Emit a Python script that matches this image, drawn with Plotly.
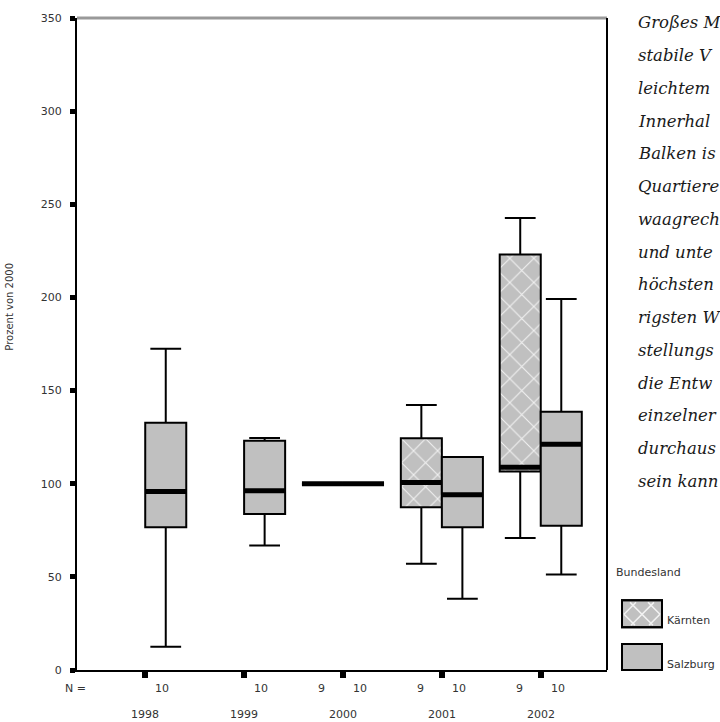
import numpy as np
import plotly.graph_objects as go

# ---------------- data ----------------
years = ["1998", "1999", "2000", "2001", "2002"]

kaernten_years = ["2000", "2001", "2002"]
kaernten_low = [100, 57.0, 70.9]
kaernten_q1 = [100, 87.3, 106.5]
kaernten_median = [100, 100.7, 108.8]
kaernten_q3 = [100, 124.4, 223.0]
kaernten_high = [100, 142.2, 242.6]
kaernten_n = [9, 9, 9]

salzburg_years = ["1998", "1999", "2000", "2001", "2002"]
salzburg_low = [12.5, 66.8, 100, 38.3, 51.3]
salzburg_q1 = [76.6, 83.7, 100, 76.6, 77.5]
salzburg_median = [95.8, 96.2, 100, 94.1, 121.2]
salzburg_q3 = [132.7, 123.0, 100, 114.4, 138.6]
salzburg_high = [172.4, 124.5, 100, 114.4, 199.2]
salzburg_n = [10, 10, 10, 10, 10]

y_ticks = [0, 50, 100, 150, 200, 250, 300, 350]

side_text = ["Großes M", "stabile V", "leichtem", "Innerhal", "Balken is",
             "Quartiere", "waagrech", "und unte", "höchsten", "rigsten W",
             "stellungs", "die Entw", "einzelner", "durchaus", "sein kann"]

# ---------------- layout geometry (pixels) ----------------
W, H = 720, 722
L, R, T, B = 77, 607, 15, 670
PW, PH = R - L, B - T


def px(x):
    return (x - L) / PW


def py(y):
    return (B - y) / PH


GREY = "#c0c0c0"
LABEL_FONT = dict(family="DejaVu Sans", size=11, color="#333333")
BOXW = 0.415

fig = go.Figure()

# patterned fill for Kärnten boxes (under the box outlines)
fig.add_trace(go.Bar(
    x=kaernten_years,
    base=kaernten_q1,
    y=np.array(kaernten_q3) - np.array(kaernten_q1),
    offset=-BOXW, width=BOXW,
    marker=dict(color=GREY, line=dict(width=0),
                pattern=dict(shape="x", fgcolor="#f2f2f2", bgcolor=GREY,
                             size=17, solidity=0.12, fillmode="replace")),
    showlegend=False, hoverinfo="skip",
))

common = dict(alignmentgroup="a", whiskerwidth=0.75, showlegend=False,
              boxpoints=False, hoverinfo="skip")

fig.add_trace(go.Box(
    x=kaernten_years, q1=kaernten_q1, median=kaernten_median, q3=kaernten_q3,
    lowerfence=kaernten_low, upperfence=kaernten_high,
    offsetgroup="K", fillcolor="rgba(0,0,0,0)",
    line=dict(color="black", width=2), name="Kärnten", **common))

fig.add_trace(go.Box(
    x=salzburg_years, q1=salzburg_q1, median=salzburg_median, q3=salzburg_q3,
    lowerfence=salzburg_low, upperfence=salzburg_high,
    offsetgroup="S", fillcolor=GREY,
    line=dict(color="black", width=2), name="Salzburg", **common))

# thick median bars
med_common = dict(alignmentgroup="a", whiskerwidth=0, showlegend=False,
                  boxpoints=False, hoverinfo="skip",
                  fillcolor="rgba(0,0,0,0)", line=dict(color="black", width=5))
fig.add_trace(go.Box(
    x=kaernten_years, q1=kaernten_median, median=kaernten_median,
    q3=kaernten_median, lowerfence=kaernten_median, upperfence=kaernten_median,
    offsetgroup="K", **med_common))
fig.add_trace(go.Box(
    x=salzburg_years, q1=salzburg_median, median=salzburg_median,
    q3=salzburg_median, lowerfence=salzburg_median, upperfence=salzburg_median,
    offsetgroup="S", **med_common))

annotations = []
# year labels and N counts (category index positions)
annotations.append(dict(text="N =", x=0, xref="paper", y=0, yref="paper",
                        xanchor="center", yanchor="middle", xshift=-2,
                        yshift=-18, showarrow=False, font=LABEL_FONT))
for yr in years:
    annotations.append(dict(text=yr, x=years.index(yr), xref="x", y=0,
                            yref="paper", xanchor="center", yanchor="middle",
                            yshift=-44, showarrow=False, font=LABEL_FONT))
for yr, n in zip(kaernten_years, kaernten_n):
    annotations.append(dict(text=str(n), x=years.index(yr), xref="x", y=0,
                            yref="paper", xanchor="center", yanchor="middle",
                            xshift=-21, yshift=-18, showarrow=False,
                            font=LABEL_FONT))
for yr, n in zip(salzburg_years, salzburg_n):
    annotations.append(dict(text=str(n), x=years.index(yr), xref="x", y=0,
                            yref="paper", xanchor="center", yanchor="middle",
                            xshift=17, yshift=-18, showarrow=False,
                            font=LABEL_FONT))

# y-axis title
annotations.append(dict(text="Prozent von 2000", x=px(10), xref="paper",
                        y=py(305), yref="paper", textangle=-90,
                        xanchor="center", yanchor="middle", showarrow=False,
                        font=dict(family="DejaVu Sans", size=10, color="#333333")))

# legend
annotations.append(dict(text="Bundesland", x=px(614), xref="paper", y=py(572),
                        yref="paper", xanchor="left", yanchor="middle",
                        showarrow=False, font=LABEL_FONT))
annotations.append(dict(text="Kärnten", x=px(665), xref="paper", y=py(620),
                        yref="paper", xanchor="left", yanchor="middle",
                        showarrow=False, font=LABEL_FONT))
annotations.append(dict(text="Salzburg", x=px(665), xref="paper", y=py(664),
                        yref="paper", xanchor="left", yanchor="middle",
                        showarrow=False, font=LABEL_FONT))

# side text fragments (as visible in the reference)
for i, line in enumerate(side_text):
    annotations.append(dict(text="<i>" + line + "</i>", x=px(636), xref="paper",
                            y=py(20 + 32.9 * i), yref="paper", xanchor="left",
                            yanchor="middle", showarrow=False,
                            font=dict(family="DejaVu Serif", size=16.5,
                                      color="#1a1a1a")))

shapes = []
# frame: grey top line, black right line
shapes.append(dict(type="line", xref="paper", yref="paper", x0=0, x1=1, y0=1,
                   y1=1, line=dict(color="#999999", width=3)))
shapes.append(dict(type="line", xref="paper", yref="paper", x0=1, x1=1, y0=0,
                   y1=1, line=dict(color="black", width=2)))


def rect(x0, y0, x1, y1):
    return dict(type="rect", xref="paper", yref="paper", x0=px(x0), x1=px(x1),
                y0=py(y1), y1=py(y0), fillcolor=GREY,
                line=dict(color="black", width=2), layer="above")


# legend swatches
sx0, sx1 = 622, 662
k_y0, k_y1 = 600, 627
shapes.append(rect(sx0, k_y0, sx1, k_y1))
path = ""
step = 18
for sgn in (1, -1):
    for k in range(-6, 8):
        c = k * step
        pts = []
        for x in np.linspace(sx0 + 2, sx1 - 2, 400):
            y = k_y0 + (x - sx0 if sgn == 1 else sx1 - x) + c - 6
            if k_y0 + 2 <= y <= k_y1 - 2:
                pts.append((x, y))
        if len(pts) > 1:
            (ax, ay), (bx, by) = pts[0], pts[-1]
            path += f"M{px(ax):.5f},{py(ay):.5f} L{px(bx):.5f},{py(by):.5f} "
if path:
    shapes.append(dict(type="path", xref="paper", yref="paper", path=path,
                       line=dict(color="#f2f2f2", width=1.5), layer="above"))
shapes.append(dict(type="rect", xref="paper", yref="paper", x0=px(sx0),
                   x1=px(sx1), y0=py(k_y1), y1=py(k_y0),
                   line=dict(color="black", width=2), layer="above"))
shapes.append(rect(sx0, 644, sx1, 670))

fig.update_layout(
    width=W, height=H,
    margin=dict(l=L, r=W - R, t=T, b=H - B, pad=0),
    paper_bgcolor="white", plot_bgcolor="white",
    boxmode="group", boxgap=0.17, boxgroupgap=0,
    showlegend=False,
    annotations=annotations, shapes=shapes,
    xaxis=dict(type="category", categoryorder="array", categoryarray=years,
               range=[-0.69, 4.67], showgrid=False, zeroline=False,
               showline=True, linecolor="black", linewidth=2,
               ticks="outside", ticklen=6, tickwidth=6, tickcolor="black",
               showticklabels=False, fixedrange=True),
    yaxis=dict(range=[0, 350], tickvals=y_ticks, showgrid=False,
               zeroline=False, showline=True, linecolor="black", linewidth=2,
               ticks="outside", ticklen=5, tickwidth=5, tickcolor="black",
               tickfont=dict(family="DejaVu Sans", size=11, color="#333333"),
               ticklabelstandoff=6, fixedrange=True),
)

fig.write_html(
    "out.html",
    config={"displayModeBar": False, "staticPlot": True},
    post_script="document.body.style.margin='0';"
                "document.body.style.overflow='hidden';",
)
